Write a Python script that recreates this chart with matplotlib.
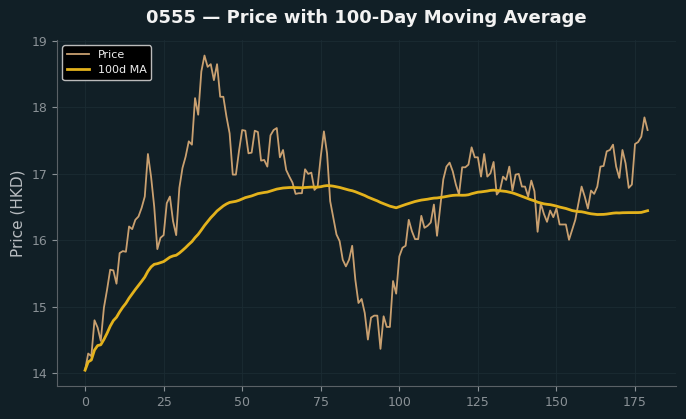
import matplotlib
matplotlib.use("Agg")
import matplotlib.pyplot as plt
import numpy as np
import pandas as pd

price = [
    14.05, 14.30, 14.26, 14.80, 14.69, 14.49, 14.99, 15.26, 15.56, 15.55,
    15.35, 15.81, 15.84, 15.83, 16.21, 16.17, 16.31, 16.36, 16.49, 16.66,
    17.30, 16.96, 16.51, 15.87, 16.04, 16.08, 16.56, 16.66, 16.29, 16.08,
    16.79, 17.09, 17.26, 17.49, 17.44, 18.14, 17.89, 18.54, 18.78, 18.61,
    18.65, 18.41, 18.65, 18.16, 18.16, 17.86, 17.61, 16.99, 16.99, 17.35,
    17.66, 17.65, 17.31, 17.32, 17.65, 17.63, 17.20, 17.21, 17.11, 17.58,
    17.66, 17.69, 17.25, 17.36, 17.06, 16.96, 16.87, 16.70, 16.71, 16.71,
    17.07, 17.00, 17.02, 16.76, 16.81, 17.26, 17.64, 17.31, 16.59, 16.34,
    16.09, 15.99, 15.71, 15.61, 15.71, 15.92, 15.41, 15.06, 15.12, 14.91,
    14.51, 14.84, 14.87, 14.87, 14.37, 14.86, 14.70, 14.70, 15.39, 15.20,
    15.76, 15.89, 15.92, 16.31, 16.14, 16.02, 16.02, 16.37, 16.19, 16.22,
    16.27, 16.54, 16.07, 16.49, 16.92, 17.11, 17.17, 17.04, 16.84, 16.69,
    17.10, 17.10, 17.14, 17.40, 17.25, 17.25, 16.96, 17.30, 16.96, 17.01,
    17.18, 16.69, 16.75, 16.96, 16.91, 17.11, 16.75, 16.99, 17.00, 16.81,
    16.81, 16.66, 16.90, 16.74, 16.13, 16.56, 16.40, 16.28, 16.45, 16.35,
    16.48, 16.24, 16.24, 16.24, 16.01, 16.16, 16.31, 16.56, 16.81, 16.66,
    16.48, 16.75, 16.70, 16.81, 17.11, 17.12, 17.34, 17.36, 17.44, 17.11,
    16.94, 17.36, 17.16, 16.79, 16.84, 17.45, 17.48, 17.56, 17.85, 17.66,
]
days = np.arange(len(price))
ma_window = 100
ma = pd.Series(price).rolling(ma_window, min_periods=1).mean()

title = "0555 \u2014 Price with 100-Day Moving Average"
ylabel = "Price (HKD)"
labels = ["Price", "100d MA"]

bg = "#111f26"
fig = plt.figure(figsize=(6.86, 4.19), dpi=100, facecolor=bg)
ax = fig.add_axes([0.083, 0.079, 0.902, 0.826], facecolor=bg)

ax.plot(days, price, color="#c9a070", lw=1.3, label=labels[0])
ax.plot(days, ma, color="#e3b21c", lw=2.0, label=labels[1])

ax.set_title(title, color="#f2f2f2", fontsize=13, fontweight="bold", pad=12)
ax.set_ylabel(ylabel, color="#b8bcc0", fontsize=11)
ax.set_xticks([0, 25, 50, 75, 100, 125, 150, 175])
ax.set_yticks([14, 15, 16, 17, 18, 19])
ax.tick_params(colors="#8a9196", labelcolor="#8a9196", labelsize=9)
ax.grid(True, color="#1b2b33", lw=0.6)
for s in ["top", "right"]:
    ax.spines[s].set_visible(False)
for s in ["left", "bottom"]:
    ax.spines[s].set_color("#5a6166")

leg = ax.legend(loc="upper left", fontsize=8, facecolor="#000000",
                edgecolor="#bbbbbb", labelcolor="#eeeeee", framealpha=1.0)

fig.savefig("out.png", dpi=100, facecolor=bg)
